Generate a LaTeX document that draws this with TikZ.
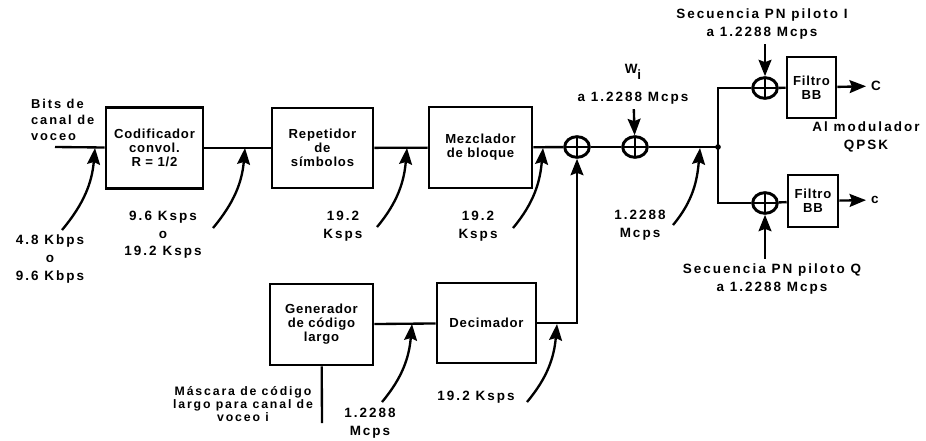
\documentclass[tikz,border=0pt]{standalone}
\usepackage{fontspec}
\setmainfont{Liberation Sans}[LetterSpace=6]
\newfontfamily\letraetiq{Liberation Sans}[LetterSpace=15]
\usepackage{tikz}
\usetikzlibrary{positioning}
\usetikzlibrary{arrows.meta}
\usetikzlibrary{shapes.geometric, calc}

\tikzset{
  bloque/.style={draw, rectangle, line width=2.2pt, align=center, inner sep=1pt, font=\bfseries\fontsize{11.2}{12}\selectfont},
  sumador/.style={draw, ellipse, line width=2.5pt, minimum width=0.74cm, minimum height=0.62cm, inner sep=0pt,
    path picture={\draw[line width=2.5pt] (path picture bounding box.north) -- (path picture bounding box.south)
      (path picture bounding box.west) -- (path picture bounding box.east);}},
  etiqueta/.style={align=center, font=\letraetiq\bfseries\fontsize{11.5}{15}\selectfont},
  flecha/.style={-{Stealth[length=14pt, width=11pt, inset=2pt]}},
}

\begin{document}
\begin{tikzpicture}[x=0.03cm, y=-0.03cm, line width=2pt]
\useasboundingbox (0,0) rectangle (926,440);

\node[bloque, minimum width=2.91cm, minimum height=2.43cm] (codif) at (154.5,148) {Codificador\\convol.\\R = 1/2};
\node[bloque, minimum width=3.03cm, minimum height=2.4cm] (repet) at (322.5,148) {Repetidor\\de\\símbolos};
\node[bloque, minimum width=3.09cm, minimum height=2.43cm] (mezcl) at (480.5,147.5) {Mezclador\\de bloque};
\node[bloque, minimum width=3.09cm, minimum height=2.43cm] (gener) at (321.5,324.5) {Generador\\de código\\largo};
\node[bloque, minimum width=2.97cm, minimum height=2.4cm] (decim) at (486.5,323) {Decimador};
\node[bloque, minimum width=1.47cm, minimum height=1.83cm] (filtroI) at (811.5,87.5) {Filtro\\BB};
\node[bloque, minimum width=1.5cm, minimum height=1.56cm] (filtroQ) at (813,201) {Filtro\\BB};

\node[sumador] (suma1) at (577,147) {};
\node[sumador] (suma2) at (635,147) {};
\node[sumador] (sumaI) at (765,88) {};
\node[sumador] (sumaQ) at (765,203) {};

\coordinate (entrada) at (55,147);
\coordinate (nodo) at (718,147);
\coordinate (finmasc) at (322,423);

\node[etiqueta, align=left, anchor=west, font=\letraetiq\bfseries\fontsize{11}{13.5}\selectfont] (bits) at (26,120) {Bits de\\canal de\\voceo};
\node[etiqueta] (tasaA) at (50,259) {4.8 Kbps\\o\\9.6 Kbps};
\node[etiqueta] (tasaB) at (163,235) {9.6 Ksps\\o\\19.2 Ksps};
\node[etiqueta] (tasaC) at (343,226) {19.2\\Ksps};
\node[etiqueta] (tasaD) at (478,226) {19.2\\Ksps};
\node[etiqueta] (tasaE) at (640,225) {1.2288\\Mcps};
\node[etiqueta] (tasaF) at (370,423) {1.2288\\Mcps};
\node[etiqueta] (tasaG) at (476,397) {19.2 Ksps};
\node[etiqueta] (walsh) at (633,84) {W\raisebox{-5pt}{i}\\[9pt]a 1.2288 Mcps};
\node[etiqueta] (pnI) at (762,24) {Secuencia PN piloto I\\a 1.2288 Mcps};
\node[etiqueta] (pnQ) at (772,279) {Secuencia PN piloto Q\\a 1.2288 Mcps};
\node[etiqueta] (almod) at (866,137) {Al modulador\\QPSK};
\node[etiqueta, font=\letraetiq\bfseries\fontsize{10.5}{11}\selectfont] (masc) at (243,404) {Máscara de código\\largo para canal de\\voceo i};
\node[etiqueta, anchor=west] (letraI) at (866,86) {C};
\node[etiqueta, anchor=west] (letraQ) at (866,200) {c};

\coordinate (pA) at (95,148);
\coordinate (pB) at (245,148);
\coordinate (pC) at (407,148);
\coordinate (pD) at (543,148);
\coordinate (pE) at (700,148);
\coordinate (pF) at (412,324);
\coordinate (pG) at (557,324);
\coordinate (cA) at (62,230);
\coordinate (cB) at (213,228);
\coordinate (cC) at (377,227);
\coordinate (cD) at (513,228);
\coordinate (cE) at (673,225);
\coordinate (cF) at (382,402);
\coordinate (cG) at (527,402);

\draw (entrada) -- (codif);
\draw (codif) -- (repet);
\draw (repet) -- (mezcl);
\draw (mezcl) -- (suma1);
\draw (suma1) -- (suma2);
\draw (suma2) -- (nodo);
\draw (nodo) |- (sumaI);
\draw (nodo) |- (sumaQ);
\fill (nodo) circle (2.4pt);
\draw (sumaI) -- (filtroI);
\draw (sumaQ) -- (filtroQ);
\draw[flecha] (filtroI) -- (letraI);
\draw[flecha] (filtroQ) -- (letraQ);
\draw (gener) -- (decim);
\draw[flecha] (decim) -| (suma1);
\draw (gener) -- (finmasc);

\draw[flecha] (walsh) -- (suma2);
\draw[flecha] (pnI.south -| sumaI) -- (sumaI);
\draw[flecha] (pnQ.north -| sumaQ) -- (sumaQ);

\draw[flecha] (cA) to[out=50, in=-95] (pA);
\draw[flecha] (cB) to[out=50, in=-95] (pB);
\draw[flecha] (cC) to[out=50, in=-95] (pC);
\draw[flecha] (cD) to[out=50, in=-95] (pD);
\draw[flecha] (cE) to[out=50, in=-95] (pE);
\draw[flecha] (cF) to[out=50, in=-95] (pF);
\draw[flecha] (cG) to[out=50, in=-95] (pG);
\end{tikzpicture}
\end{document}
